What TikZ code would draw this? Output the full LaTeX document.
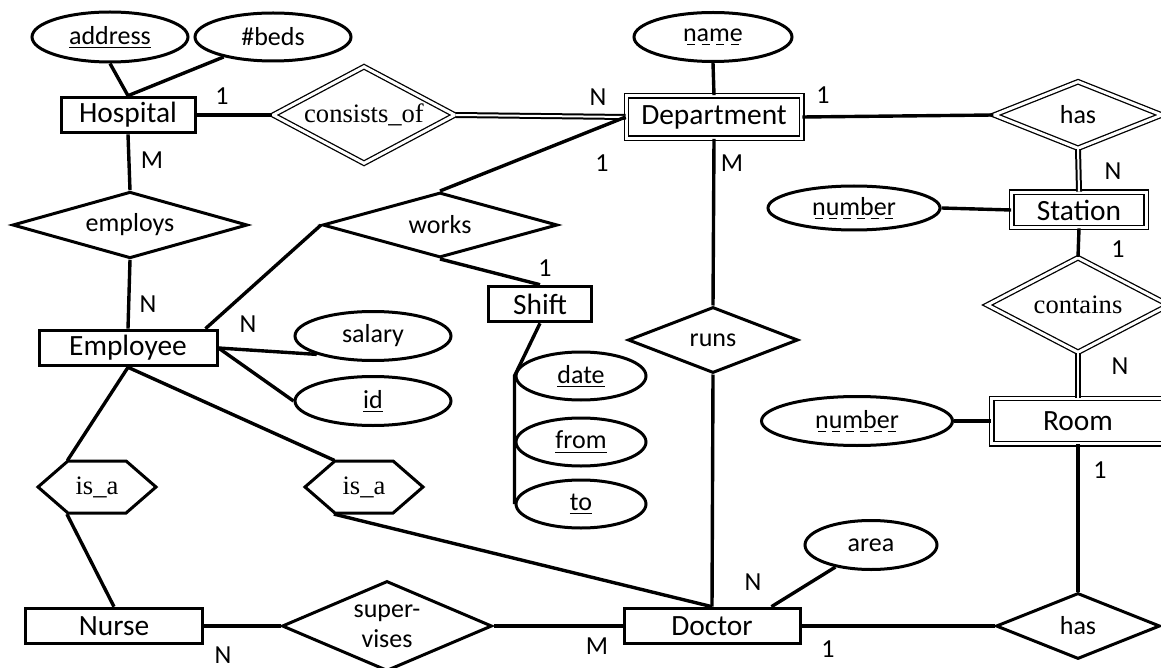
\documentclass[tikz,border=0pt]{standalone}
\usepackage{fontspec}
\setmainfont{Carlito}
\newfontfamily\timesfont{Liberation Serif}
\usetikzlibrary{shapes.geometric}
\usetikzlibrary{shapes.symbols}
\newcommand\keyul[1]{\setbox0\hbox{#1}\rlap{\rule[-2pt]{\wd0}{0.7pt}}\box0}
\newcommand\partkeyul[1]{\setbox0\hbox{#1}\rlap{\hbox to \wd0{\xleaders\hbox to 6.5pt{\hss\rule[-2pt]{4pt}{0.7pt}\hss}\hfill}}\box0}

\begin{document}
\begin{tikzpicture}[x=0.5pt, y=-0.5pt, line width=1.5pt, font=\fontsize{13}{15}\selectfont]
\tikzset{entity node/.style = {rectangle, draw, inner sep=0pt, minimum width=#1, minimum height=17.8pt, font=\fontsize{14.7}{16}\selectfont}}
\tikzset{weak node/.style = {rectangle, draw, double, line width=.65pt, double distance=1.5pt, inner sep=0pt, minimum width=#1, font=\fontsize{14.7}{16}\selectfont}}
\tikzset{rel node/.style = {diamond, draw, inner sep=0pt, aspect=2}}
\tikzset{weak rel/.style = {rel node, double, line width=.65pt, double distance=1.5pt, font=\timesfont\fontsize{13.3}{15}\selectfont}}
\tikzset{attr node/.style = {ellipse, draw, inner sep=0pt, minimum width=#1, minimum height=24pt}}
\tikzset{isa node/.style = {signal, signal to=east and west, signal pointer angle=82, draw, inner sep=0pt, minimum width=59pt, minimum height=26pt, font=\timesfont\fontsize{13.3}{15}\selectfont}}
\tikzset{edge/.style = {line width=1.7pt}}
\tikzset{total edge/.style = {double, line width=1pt, double distance=1pt}}

\useasboundingbox (0,0) rectangle (1161,668);

% entities
\node[entity node=67pt] (hosp) at (128,115) {Hospital};
\node[entity node=89pt] (emp) at (128,348) {Employee};
\node[entity node=88.5pt] (nurse) at (114,626) {Nurse};
\node[entity node=88pt] (doc) at (712,626) {Doctor};
\node[entity node=51.6pt] (shift) at (540,304) {Shift};
\node[weak node=87.7pt, minimum height=21.2pt] (dept) at (714,117) {Department};
\node[weak node=67.2pt, minimum height=17.7pt] (stat) at (1079,210) {Station};
\node[weak node=86.2pt, minimum height=22.7pt] (room) at (1078,421) {Room};

% relationships
\node[weak rel, minimum width=91pt, minimum height=48.5pt] (cons) at (364,115) {consists\_of};
\node[weak rel, minimum width=84pt, minimum height=33.5pt, font=\fontsize{13}{15}\selectfont] (hasS) at (1078,115) {has};
\node[weak rel, minimum width=91pt, minimum height=47.5pt] (cont) at (1078,305) {contains};
\node[rel node, minimum width=82pt, minimum height=33pt] (hasR) at (1078,626) {has};
\node[rel node, minimum width=117.5pt, minimum height=33pt] (empl) at (130,225) {employs};
\node[rel node, minimum width=117.5pt, minimum height=32.5pt] (works) at (440,225) {works};
\node[rel node, minimum width=85pt, minimum height=33pt] (runs) at (713,340) {runs};
\node[rel node, minimum width=105pt, minimum height=45pt, align=center] (sup) at (387,626) {super-\\vises};
\node[isa node] (isa1) at (97,487) {is\_a};
\node[isa node] (isa2) at (364,487) {is\_a};

% attributes
\node[attr node=78pt, minimum height=25pt] (addr) at (110,37) {\keyul{address}};
\node[attr node=78pt] (beds) at (273,37) {\#beds};
\node[attr node=79pt, minimum height=24.5pt] (name) at (713,37) {\partkeyul{name}};
\node[attr node=86pt, minimum height=22pt] (numS) at (854,208) {\partkeyul{number}};
\node[attr node=95.5pt, minimum height=24.5pt] (numR) at (857,421) {\partkeyul{number}};
\node[attr node=78pt, minimum height=24.5pt] (sal) at (373,336) {salary};
\node[attr node=78pt, minimum height=24.5pt] (id) at (373,401) {\keyul{id}};
\node[attr node=66pt, minimum height=24.5pt] (area) at (871,545) {area};
\foreach \n/\t/\y in {sdate/date/376, sfrom/from/442, sto/to/504}
  {\node[attr node=65pt] (\n) at (581,\y) {\keyul{\t}};}

% connectors
\draw[edge] (addr.south) -- (hosp.north);
\draw[edge] (beds) -- (hosp.north);
\draw[edge] (hosp.east) -- (cons.west);
\draw[total edge] (cons.east) -- (dept.west);
\draw[edge] (name.south) -- (dept.north);
\draw[edge] (dept.east) -- (hasS.west);
\draw[total edge] (hasS.south) -- (stat.north);
\draw[edge] (numS.east) -- (stat.west);
\draw[edge] (stat.south) -- (cont.north);
\draw[total edge] (cont.south) -- (room.north);
\draw[edge] (numR.east) -- (room.west);
\draw[edge] (room.south) -- (hasR.north);
\draw[edge] (doc.east) -- (hasR.west);
\draw[edge] (doc.18) -- (area);
\draw[edge] (nurse.east) -- (sup.west);
\draw[edge] (sup.east) -- (doc.west);
\draw[edge] (hosp.south) -- (empl.north);
\draw[edge] (empl.south) -- (emp.north);
\draw[edge] (emp.14) -- (works.west);
\draw[edge] (works.north) -- (dept.west);
\draw[edge] (works.south) -- (shift.north);
\draw[edge] (shift.south) -- (sdate.west) -- (sfrom.west) -- (sto.west);
\draw[edge] (emp.east) -- (sal.south west);
\draw[edge] (emp.east) -- (id.west);
\draw[edge] (emp.south) -- (isa1.138);
\draw[edge] (isa1.222) -- (nurse.north);
\draw[edge] (emp.south) -- (isa2.138);
\draw[edge] (isa2.222) -- (doc.north);
\draw[edge] (dept.south) -- (runs.north);
\draw[edge] (runs.south) -- (doc.north);

% cardinalities
\foreach \n/\x/\y/\t in {c1/222/96/1, c2/152/160/M, c3/148/304/N, c4/248/324/N, c5/598/97/N, c6/823/95/1, c7/602/163/1, c8/732/163/M, c9/545/268/1, c10/1113/171/N, c11/1118/249/1, c12/1120/366/N, c13/1100/470/1, c14/753/582/N, c15/828/649/1, c16/223/655/N, c17/597/646/M}
  {\node (\n) at (\x,\y) {\t};}

\end{tikzpicture}
\end{document}
